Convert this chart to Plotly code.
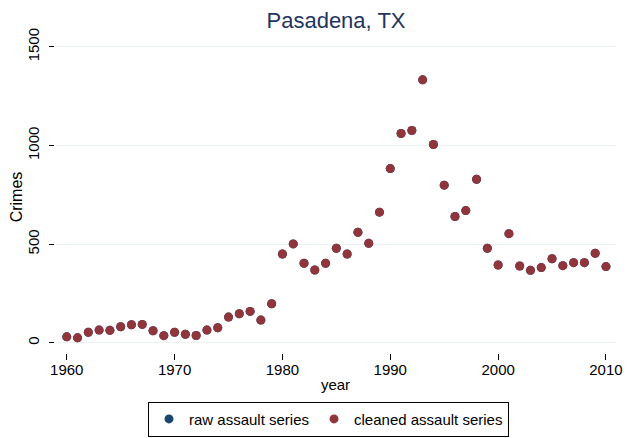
import plotly.graph_objects as go

years = list(range(1960, 2011))
raw_assault = [30, 25, 53, 64, 63, 81, 91, 93, 61, 36,
               53, 43, 37, 64, 76, 130, 147, 159, 115, 198,
               450, 501, 403, 369, 403, 479, 450, 560, 504, 662,
               883, 1061, 1076, 1333, 1005, 799, 640, 670, 829, 479,
               394, 553, 389, 367, 381, 426, 391, 406, 406, 454,
               386]
cleaned_assault = list(raw_assault)

x_ticks = [1960, 1970, 1980, 1990, 2000, 2010]
y_ticks = [0, 500, 1000, 1500]

fig = go.Figure()
fig.add_trace(go.Scatter(x=years, y=raw_assault, mode="markers", name="raw assault series",
                         marker=dict(color="#1a476f", size=9)))
fig.add_trace(go.Scatter(x=years, y=cleaned_assault, mode="markers", name="cleaned assault series",
                         marker=dict(color="#90353b", size=9)))

# the page body adds an 8px margin, so the figure is 8px smaller and offsets reduced by 8
fig.update_layout(
    width=629, height=430,
    paper_bgcolor="white", plot_bgcolor="white",
    font=dict(family="Liberation Sans, Arial, sans-serif", size=15, color="#000000"),
    title=dict(text="Pasadena, TX", x=0.5215, xanchor="center", y=0.972, yanchor="middle",
               font=dict(size=22, color="#1e3560")),
    margin=dict(l=47, r=21, t=33, b=85, autoexpand=False),
    showlegend=True,
    legend=dict(orientation="h", x=0.4875, xanchor="center", y=-0.156, yanchor="top",
                bordercolor="#000000", borderwidth=1, font=dict(size=15),
                itemwidth=30, traceorder="normal"),
    xaxis=dict(range=[1958.91, 2010.93], tickvals=x_ticks, ticks="outside", ticklen=6,
               tickcolor="#000000", showgrid=False, zeroline=False, showline=False,
               automargin=False, tickfont=dict(size=15), ticklabelstandoff=-3,
               title=dict(text="year", font=dict(size=15), standoff=2)),
    yaxis=dict(range=[-52, 1530], tickvals=y_ticks, ticks="outside", ticklen=5,
               tickcolor="#000000", tickangle=-90, showgrid=True, gridcolor="#eaf2f3",
               gridwidth=1.2, zeroline=False, showline=False, automargin=False,
               tickfont=dict(size=15), ticklabelstandoff=4,
               title=dict(text="Crimes", font=dict(size=16), standoff=0)),
)

fig.write_html("out.html")
